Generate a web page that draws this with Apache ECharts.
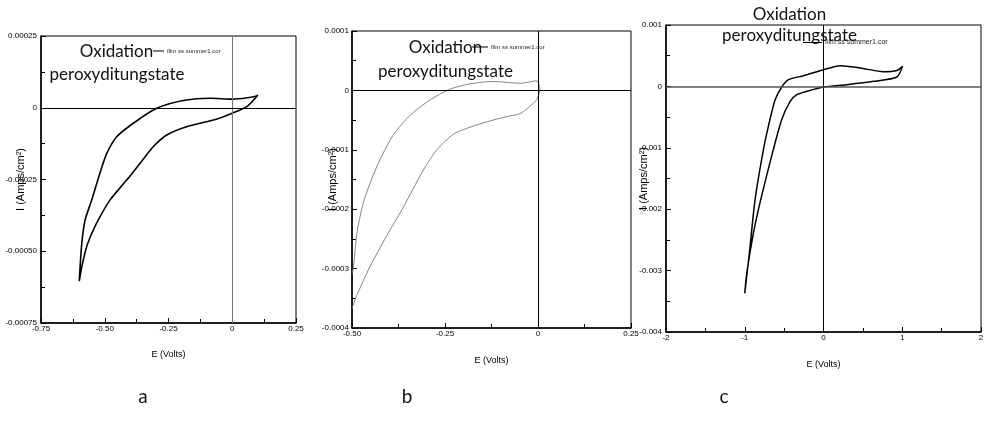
<!DOCTYPE html>
<html>
<head>
<meta charset="utf-8">
<style>
  html, body { margin: 0; padding: 0; background: #fff; }
  #chart { width: 984px; height: 428px; }
</style>
<script src="https://cdn.jsdelivr.net/npm/echarts@6/dist/echarts.min.js"></script>
</head>
<body>
<div id="chart"></div>
<script>
// Cyclic voltammograms: potential E (V) vs current density I (A/cm²)

// Panel a
const aE = [-0.600, -0.590, -0.577, -0.551, -0.519, -0.492, -0.453, -0.388, -0.296, -0.192, -0.087, 0.000, 0.060, 0.096, 0.100,
            0.096, 0.057, 0.000, -0.074, -0.179, -0.257, -0.310, -0.362, -0.414, -0.479, -0.519, -0.545, -0.571, -0.590, -0.600];
const aI = [-0.000604, -0.000472, -0.000391, -0.000321, -0.000228, -0.000159, -0.000101, -0.000054, -0.000002, 0.000025, 0.000033, 0.000030, 0.000035, 0.000041, 0.000044,
            0.000039, 0.000004, -0.000019, -0.000043, -0.000066, -0.000095, -0.000136, -0.000194, -0.000252, -0.000321, -0.000380, -0.000426, -0.000484, -0.000554, -0.000604];

// Panel b
const bE = [-0.500, -0.496, -0.487, -0.470, -0.452, -0.425, -0.389, -0.344, -0.290, -0.237, -0.183, -0.120, -0.048, -0.004, 0.005,
            -0.004, -0.048, -0.084, -0.138, -0.192, -0.228, -0.272, -0.308, -0.335, -0.365, -0.407, -0.452, -0.487, -0.500];
const bI = [-0.000310, -0.000297, -0.000241, -0.000190, -0.000157, -0.000117, -0.000075, -0.000042, -0.000016, 0.000002, 0.000011, 0.000015, 0.000012, 0.000016, 0.000003,
            -0.000016, -0.000039, -0.000044, -0.000053, -0.000064, -0.000074, -0.000100, -0.000134, -0.000165, -0.000200, -0.000245, -0.000297, -0.000345, -0.000367];

// Panel c
const cE = [-1.000, -0.940, -0.869, -0.763, -0.700, -0.614, -0.530, -0.445, -0.254, 0.000, 0.212, 0.466, 0.762, 0.932, 1.003,
            0.932, 0.636, 0.297, 0.000, -0.212, -0.339, -0.424, -0.530, -0.637, -0.797, -0.890, -0.974, -1.000];
const cI = [-0.00337, -0.00270, -0.001845, -0.00103, -0.00065, -0.000217, -0.00001, 0.000109, 0.000174, 0.000272, 0.000337, 0.000300, 0.000240, 0.000260, 0.000326,
            0.000153, 0.000082, 0.000028, -0.000010, -0.000080, -0.000135, -0.000244, -0.00054, -0.00103, -0.001845, -0.00239, -0.00304, -0.00337];

// Tick labels (listed from axis min to max)
const aXTicks = ['-0.75', '-0.50', '-0.25', '0', '0.25'];
const aYTicks = ['-0.00075', '-0.00050', '-0.00025', '0', '0.00025'];
const bXTicks = ['-0.50', '-0.25', '0', '0.25'];
const bYTicks = ['-0.0004', '-0.0003', '-0.0002', '-0.0001', '0', '0.0001'];
const cXTicks = ['-2', '-1', '0', '1', '2'];
const cYTicks = ['-0.004', '-0.003', '-0.002', '-0.001', '0', '0.001'];

const seriesName = 'film ss summer1.cor';
const xName = 'E (Volts)';
const yName = 'I (Amps/cm²)';
const noteTop = 'Oxidation';
const noteBottom = 'peroxyditungstate';
const panelNames = ['a', 'b', 'c'];

const TICKFONT = '"Liberation Sans", Arial, sans-serif';
const SANS = '"Liberation Sans", Arial, sans-serif';
const NOTE = 'Lato, "Open Sans", sans-serif';

const zip = (xs, ys) => xs.map((x, i) => [x, ys[i]]);

function xAxisFor(grid, min, max, interval, ticks, gap) {
  return {
    type: 'value', gridIndex: grid, min: min, max: max, interval: interval,
    name: xName, nameLocation: 'middle', nameGap: gap, nameMoveOverlap: false,
    nameTextStyle: { fontFamily: SANS, fontSize: 9, color: '#000' },
    axisLine: { show: true, onZero: false, lineStyle: { color: '#000', width: 1.5 } },
    axisTick: { show: true, inside: true, length: 5, lineStyle: { color: '#000', width: 1 } },
    minorTick: { show: true, splitNumber: 2, length: 4, lineStyle: { color: '#000', width: 1 } },
    splitLine: { show: false },
    axisLabel: {
      margin: 2, fontFamily: TICKFONT, fontSize: 8, color: '#000',
      formatter: (v, i) => ticks[i]
    }
  };
}

function yAxisFor(grid, min, max, interval, ticks, gap, margin) {
  return {
    type: 'value', gridIndex: grid, min: min, max: max, interval: interval,
    name: yName, nameLocation: 'middle', nameGap: gap, nameRotate: 90, nameMoveOverlap: false,
    nameTextStyle: { fontFamily: SANS, fontSize: 11, color: '#000' },
    axisLine: { show: true, onZero: false, lineStyle: { color: '#000', width: 1.5 } },
    axisTick: { show: true, inside: true, length: 5, lineStyle: { color: '#000', width: 1 } },
    minorTick: { show: true, splitNumber: 2, length: 4, lineStyle: { color: '#000', width: 1 } },
    splitLine: { show: false },
    axisLabel: {
      margin: margin, fontFamily: TICKFONT, fontSize: 8, color: '#000',
      formatter: (v, i) => ticks[i]
    }
  };
}

function zeroLines(vColor, hColor, hWidth) {
  return {
    silent: true, symbol: ['none', 'none'], label: { show: false },
    animation: false,
    lineStyle: { type: 'solid', width: 1, color: '#000' },
    data: [
      { xAxis: 0, lineStyle: { type: 'solid', color: vColor, width: 1 } },
      { yAxis: 0, lineStyle: { type: 'solid', color: hColor, width: hWidth } }
    ]
  };
}

function legendAt(left, top, fontSize, iconW) {
  return {
    left: left, top: top, padding: 0, selectedMode: false,
    data: [seriesName], icon: 'rect', itemWidth: iconW, itemHeight: 1,
    itemGap: 0,
    itemStyle: { color: '#000' },
    textStyle: { fontFamily: TICKFONT, fontSize: fontSize, color: '#222', padding: [0, 0, 0, -2] }
  };
}

function noteText(x, y, text, size) {
  return {
    type: 'text', x: x, y: y, silent: true,
    style: { text: text, fill: '#111', font: size + 'px ' + NOTE, textAlign: 'center', textVerticalAlign: 'middle' }
  };
}

function gridAt(left, top, width, height) {
  return {
    left: left, top: top, width: width, height: height,
    containLabel: false, outerBoundsMode: 'none',
    show: true, borderColor: '#000', borderWidth: 1
  };
}

const chart = echarts.init(document.getElementById('chart'), null, { renderer: 'canvas' });

chart.setOption({
  animation: false,
  backgroundColor: '#fff',
  grid: [
    gridAt(41, 36, 255, 287),
    gridAt(352, 31, 279, 297),
    gridAt(666, 25, 315, 307)
  ],
  xAxis: [
    xAxisFor(0, -0.75, 0.25, 0.25, aXTicks, 27),
    xAxisFor(1, -0.5, 0.25, 0.25, bXTicks, 28),
    xAxisFor(2, -2, 2, 1, cXTicks, 28)
  ],
  yAxis: [
    yAxisFor(0, -0.00075, 0.00025, 0.00025, aYTicks, 15, 4),
    yAxisFor(1, -0.0004, 0.0001, 0.0001, bYTicks, 14, 3),
    yAxisFor(2, -0.004, 0.001, 0.001, cYTicks, 17, 4)
  ],
  legend: [
    legendAt(153, 48, 6, 11),
    legendAt(472, 44, 6, 16),
    legendAt(803, 39, 7, 19)
  ],
  series: [
    {
      name: seriesName, type: 'line', xAxisIndex: 0, yAxisIndex: 0,
      data: zip(aE, aI), showSymbol: false, smooth: 0.25,
      lineStyle: { color: '#000', width: 1.6 }, itemStyle: { color: '#000' },
      markLine: zeroLines('#777', '#000', 1.2)
    },
    {
      name: seriesName, type: 'line', xAxisIndex: 1, yAxisIndex: 1,
      data: zip(bE, bI), showSymbol: false, smooth: 0.25,
      lineStyle: { color: '#777', width: 0.9 }, itemStyle: { color: '#777' },
      markLine: zeroLines('#000', '#000', 1.2)
    },
    {
      name: seriesName, type: 'line', xAxisIndex: 2, yAxisIndex: 2,
      data: zip(cE, cI), showSymbol: false, smooth: 0.25,
      lineStyle: { color: '#000', width: 1.5 }, itemStyle: { color: '#000' },
      markLine: zeroLines('#000', '#555', 1.6)
    }
  ],
  graphic: [
    noteText(116.5, 52, noteTop, 17),
    noteText(117, 75, noteBottom, 17),
    noteText(445.5, 48, noteTop, 17),
    noteText(445.5, 72, noteBottom, 17),
    noteText(789.5, 15, noteTop, 17),
    noteText(789.5, 36, noteBottom, 17),
    noteText(143, 397, panelNames[0], 19),
    noteText(407, 397, panelNames[1], 19),
    noteText(724, 397, panelNames[2], 19)
  ]
});
</script>
</body>
</html>
